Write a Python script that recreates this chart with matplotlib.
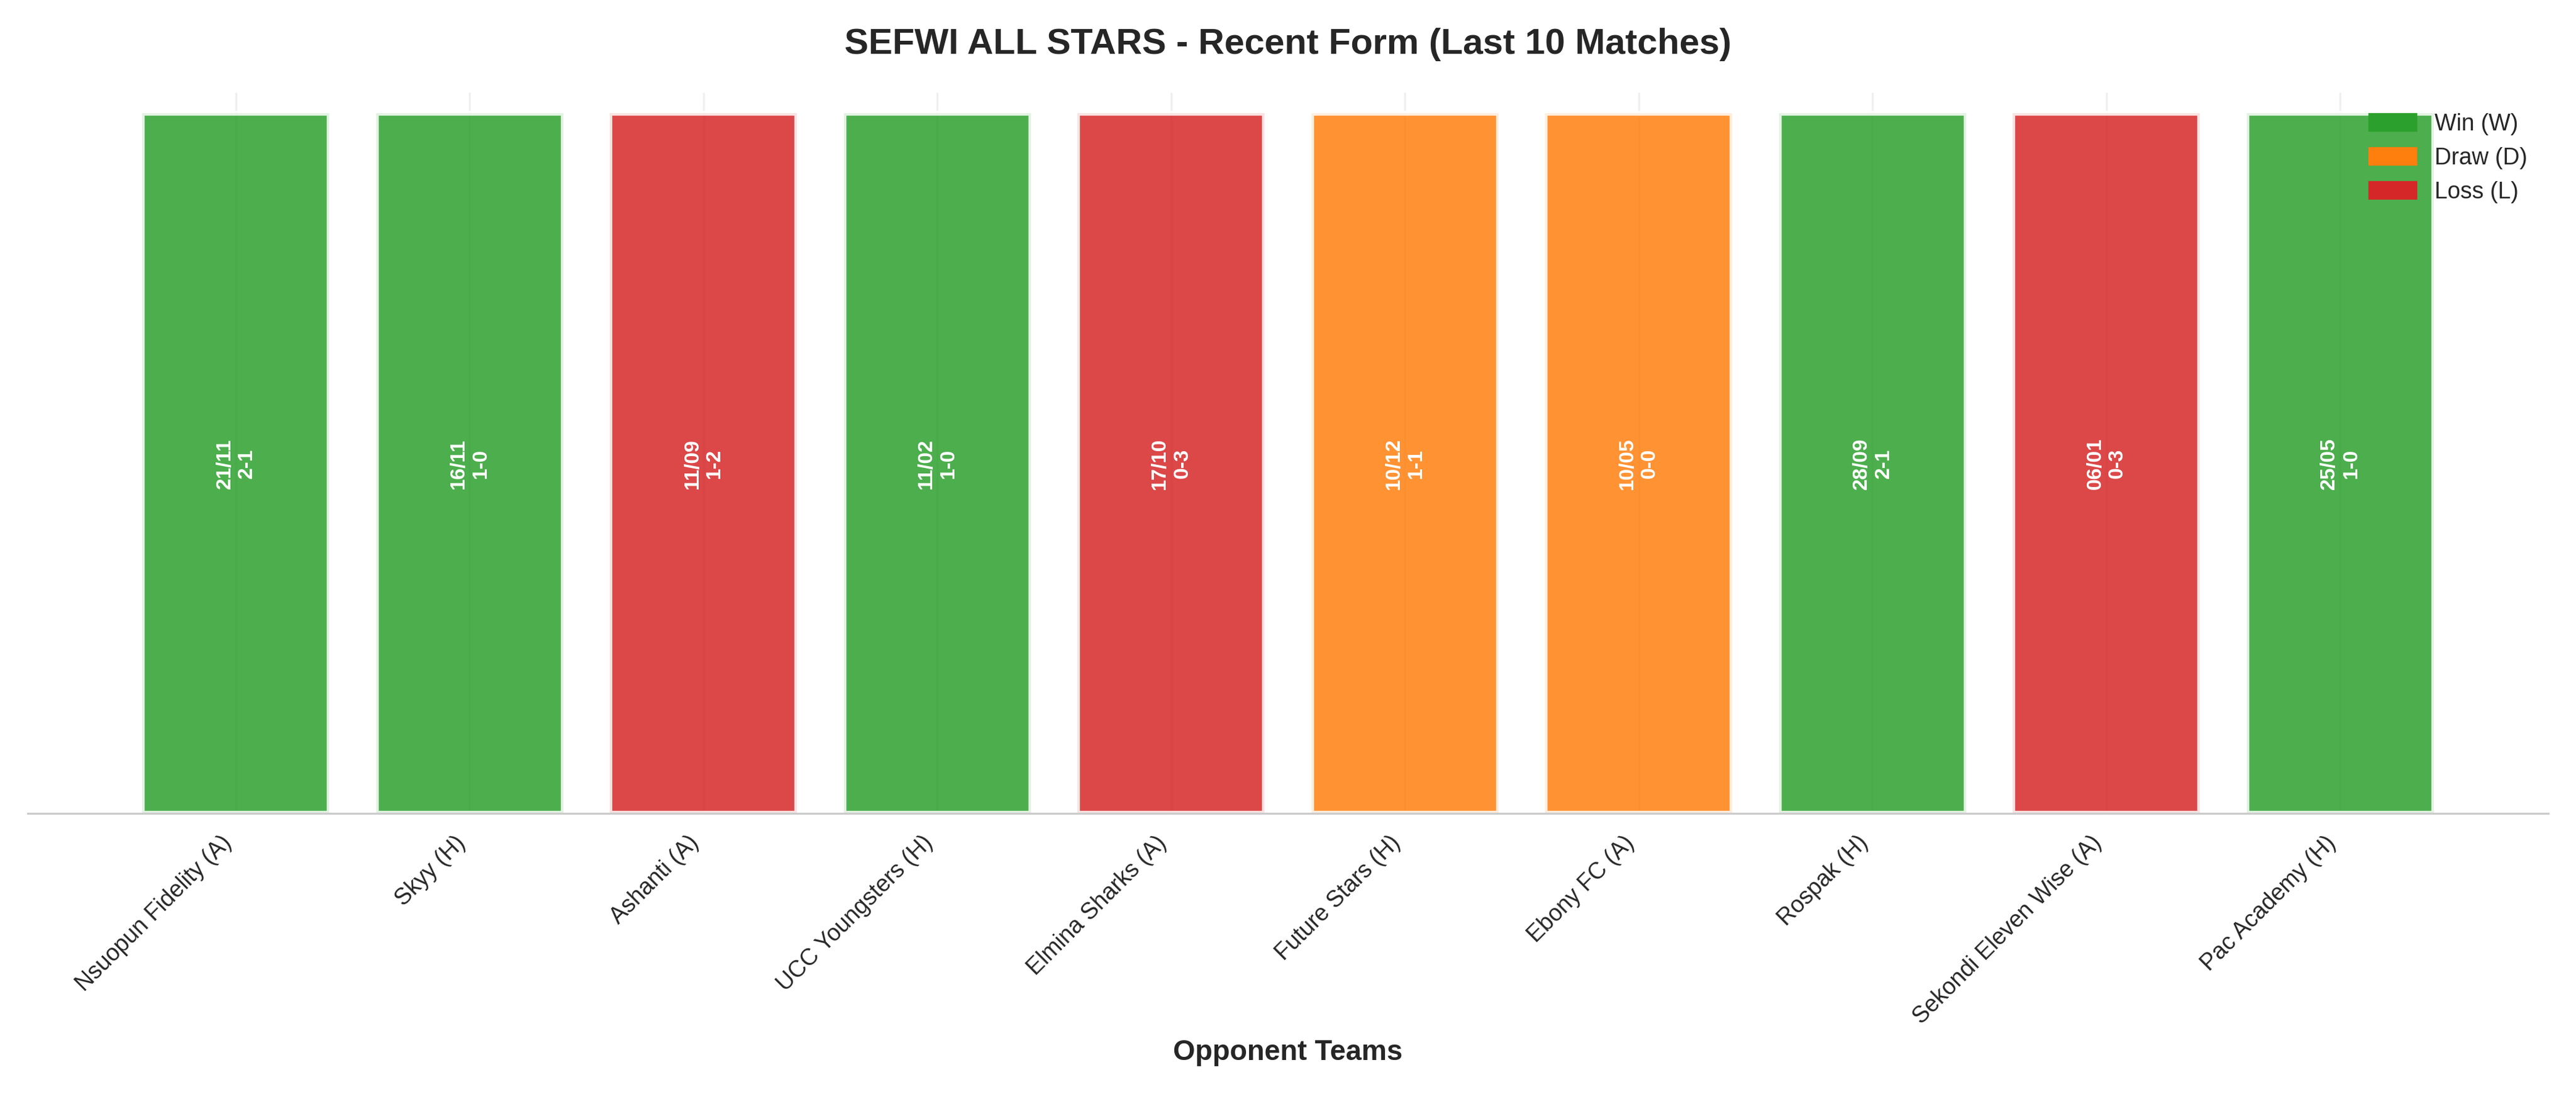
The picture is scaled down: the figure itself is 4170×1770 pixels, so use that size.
import matplotlib
matplotlib.use("Agg")
import matplotlib.pyplot as plt
import seaborn as sns
from matplotlib.patches import Patch

sns.set_style("whitegrid")
plt.rcParams['font.family'] = ['Liberation Sans', 'DejaVu Sans']

opponents = ["Nsuopun Fidelity (A)", "Skyy (H)", "Ashanti (A)", "UCC Youngsters (H)",
             "Elmina Sharks (A)", "Future Stars (H)", "Ebony FC (A)", "Rospak (H)",
             "Sekondi Eleven Wise (A)", "Pac Academy (H)"]
dates = ["21/11", "16/11", "11/09", "11/02", "17/10", "10/12", "10/05", "28/09", "06/01", "25/05"]
scores = ["2-1", "1-0", "1-2", "1-0", "0-3", "1-1", "0-0", "2-1", "0-3", "1-0"]
results = ["W", "W", "L", "W", "L", "D", "D", "W", "L", "W"]
colors = {"W": "#2ca02c", "D": "#ff7f0e", "L": "#d62728"}

fig, ax = plt.subplots(figsize=(13.9, 5.9), dpi=300)
x = range(len(opponents))
ax.bar(x, [1]*len(opponents), color=[colors[r] for r in results], alpha=0.85,
       edgecolor="white", linewidth=2, width=0.8)
for i in x:
    ax.text(i, 0.5, f"{dates[i]}\n{scores[i]}", rotation=90, ha="center", va="center",
            color="white", fontsize=8, fontweight="bold")
ax.set_xticks(list(x))
ax.set_xticklabels(opponents, rotation=45, ha="right", fontsize=9)
ax.set_yticks([])
ax.set_ylim(0, 1.03)
ax.grid(axis="y", visible=False)
ax.grid(axis="x", alpha=0.3)
for s in ["top", "right", "left"]:
    ax.spines[s].set_visible(False)
ax.spines["bottom"].set_color("#cccccc")
ax.set_xlabel("Opponent Teams", fontsize=11, fontweight="bold")
ax.set_title("SEFWI ALL STARS - Recent Form (Last 10 Matches)", fontsize=14, fontweight="bold", pad=15)
handles = [Patch(color=colors["W"], label="Win (W)"), Patch(color=colors["D"], label="Draw (D)"),
           Patch(color=colors["L"], label="Loss (L)")]
ax.legend(handles=handles, loc="upper right", frameon=False, fontsize=9)
plt.tight_layout()
plt.savefig("out.png", dpi=300)
